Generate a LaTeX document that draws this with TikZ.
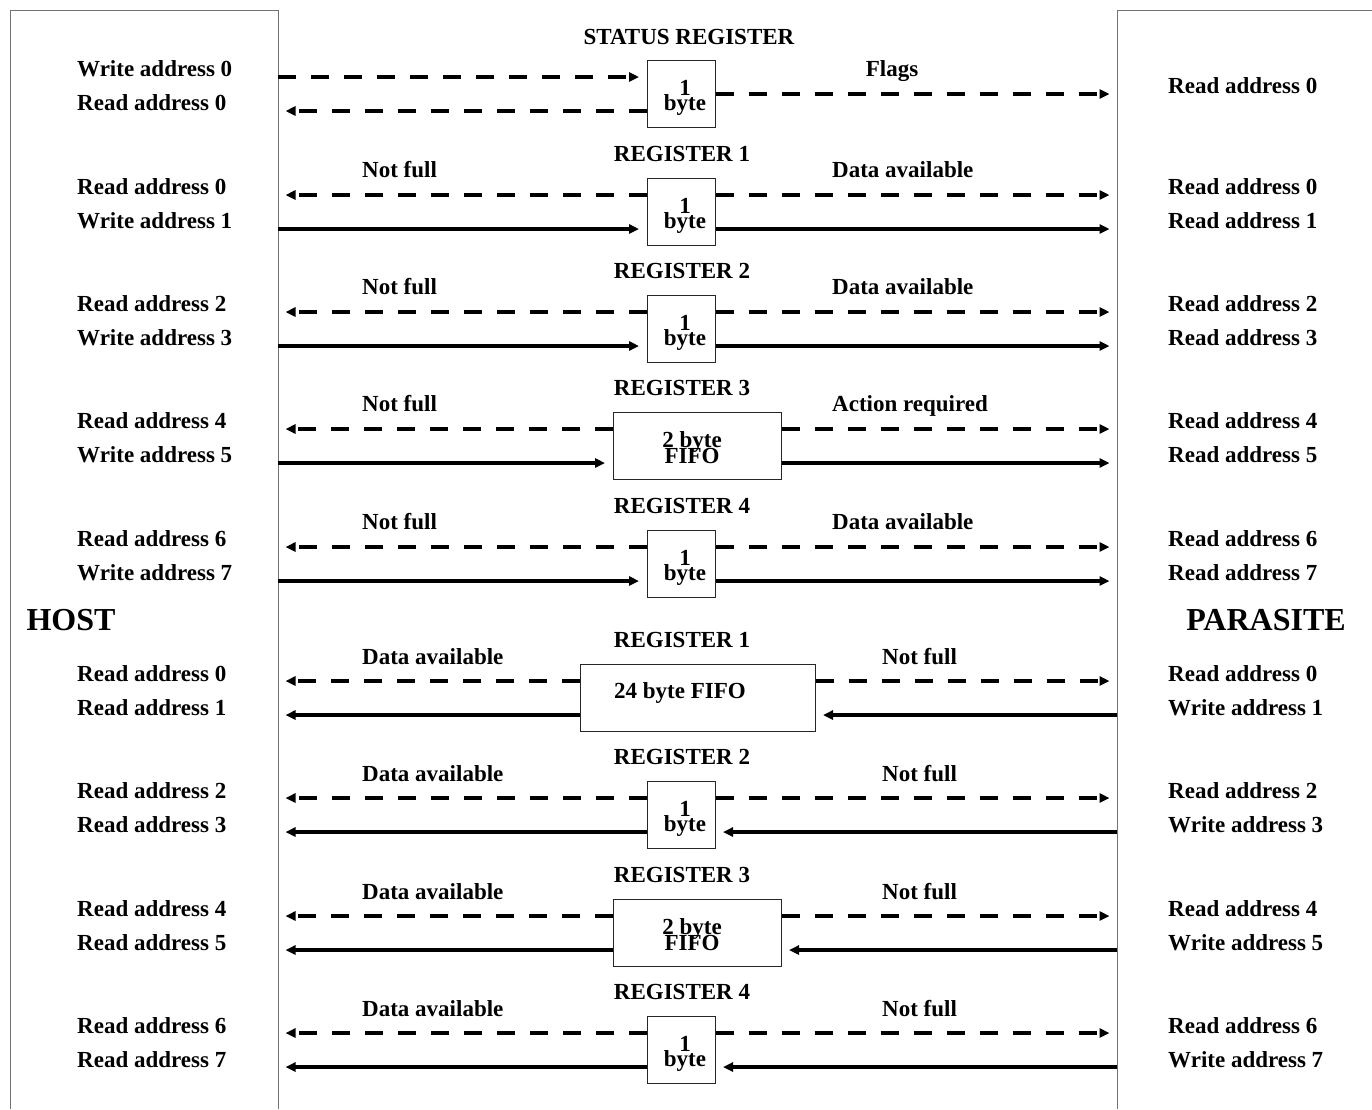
\documentclass[tikz,border=0pt]{standalone}
\usepackage{fontspec}
\setmainfont{Liberation Serif}
\usetikzlibrary{arrows.meta}
\begin{document}
\begin{tikzpicture}[x=1pt,y=-1pt,
  txt/.style={font=\fontsize{23}{23}\selectfont\bfseries, inner sep=0pt, text height=15.5pt, text depth=0pt},
  lbl/.style={txt, anchor=west},
  bigtxt/.style={font=\fontsize{32}{32}\selectfont\bfseries, inner sep=0pt},
  boxtxt/.style={font=\fontsize{23}{23}\selectfont\bfseries, inner sep=0pt, anchor=base},
  reg/.style={draw=black!85, line width=1pt, fill=white, inner sep=0pt, minimum height=67pt},
  panel/.style={draw=black!55, line width=1pt},
  flow/.style={line width=3.5pt, -{Triangle[length=10pt,width=9pt]}, shorten >=7.5pt},
  dsh/.style={flow, dash pattern=on 18pt off 15pt},
]
\useasboundingbox (0,0) rectangle (1372,1109);

% panels
\draw[panel] (10,1109) -- (10,10) -- (278,10) -- (278,1109);
\draw[panel] (1117,1109) -- (1117,10) -- (1372,10);
\node[bigtxt] (host) at (71,620) {HOST};
\node[bigtxt] (parasite) at (1266,620) {PARASITE};

% ---------- status register ----------
\node[reg, minimum width=68pt] (s) at (681,94) {};
\node[boxtxt] (s1) at (685,95) {1};
\node[boxtxt] (s2) at (685,110) {byte};
\node[txt] (stitle) at (689,37) {STATUS REGISTER};
\node[txt] (flags) at (892,69) {Flags};
\node[lbl] (sl1) at (77,69) {Write address 0};
\node[lbl] (sl2) at (77,103) {Read address 0};
\node[lbl] (sr1) at (1168,86) {Read address 0};
\coordinate (sw) at (278,77);
\coordinate (srd) at (278,111);
\coordinate (sp) at (1117,94);
\draw[dsh] (sw) -- (s.west |- sw);
\draw[dsh] (s.west |- srd) -- (srd);
\draw[dsh] (s.east) -- (sp);

% ---------- host -> parasite registers ----------
\node[reg, minimum width=68pt] (u1) at (681,212) {};
\node[reg, minimum width=68pt] (u2) at (681,329) {};
\node[reg, minimum width=168pt] (u3) at (697,446) {};
\node[reg, minimum width=68pt] (u4) at (681,564) {};
\foreach \n/\m in {1/212,2/329,4/564}{
  \node[boxtxt] (ua\n) at (685,\m+1) {1};
  \node[boxtxt] (ub\n) at (685,\m+16) {byte};
}
\node[boxtxt] (ua3) at (692,447) {2 byte};
\node[boxtxt] (ub3) at (692,463) {FIFO};

\foreach \n/\m/\t/\la/\lb/\ra/\rb/\nt in {
  1/212/REGISTER 1/Read address 0/Write address 1/Read address 0/Read address 1/Data available,
  2/329/REGISTER 2/Read address 2/Write address 3/Read address 2/Read address 3/Data available,
  3/446/REGISTER 3/Read address 4/Write address 5/Read address 4/Read address 5/Action required,
  4/564/REGISTER 4/Read address 6/Write address 7/Read address 6/Read address 7/Data available}{
  \node[txt] (ut\n) at (682,\m-58.5) {\t};
  \node[lbl] (un\n) at (362,\m-42) {Not full};
  \node[lbl] (um\n) at (832,\m-42) {\nt};
  \node[lbl] (ul\n) at (77,\m-25) {\la};
  \node[lbl] (uk\n) at (77,\m+9) {\lb};
  \node[lbl] (ur\n) at (1168,\m-25) {\ra};
  \node[lbl] (uq\n) at (1168,\m+9) {\rb};
  \coordinate (uht\n) at (278,\m-17);
  \coordinate (uhb\n) at (278,\m+17);
  \coordinate (upt\n) at (1117,\m-17);
  \coordinate (upb\n) at (1117,\m+17);
  \draw[dsh] (u\n.west |- uht\n) -- (uht\n);
  \draw[flow] (uhb\n) -- (u\n.west |- uhb\n);
  \draw[dsh] (u\n.east |- upt\n) -- (upt\n);
  \draw[flow] (u\n.east |- upb\n) -- (upb\n);
}

% ---------- parasite -> host registers ----------
\node[reg, minimum width=235pt] (v1) at (697.5,698) {};
\node[reg, minimum width=68pt] (v2) at (681,815) {};
\node[reg, minimum width=168pt] (v3) at (697,933) {};
\node[reg, minimum width=68pt] (v4) at (681,1050) {};
\node[txt] (va1) at (680,691) {24 byte FIFO};
\foreach \n/\m in {2/815,4/1050}{
  \node[boxtxt] (va\n) at (685,\m+1) {1};
  \node[boxtxt] (vb\n) at (685,\m+16) {byte};
}
\node[boxtxt] (va3) at (692,934) {2 byte};
\node[boxtxt] (vb3) at (692,950) {FIFO};

\foreach \n/\m/\t/\la/\lb/\ra/\rb in {
  1/698/REGISTER 1/Read address 0/Read address 1/Read address 0/Write address 1,
  2/815/REGISTER 2/Read address 2/Read address 3/Read address 2/Write address 3,
  3/933/REGISTER 3/Read address 4/Read address 5/Read address 4/Write address 5,
  4/1050/REGISTER 4/Read address 6/Read address 7/Read address 6/Write address 7}{
  \node[txt] (vt\n) at (682,\m-58) {\t};
  \node[lbl] (vn\n) at (362,\m-41) {Data available};
  \node[lbl] (vm\n) at (882,\m-41) {Not full};
  \node[lbl] (vl\n) at (77,\m-24) {\la};
  \node[lbl] (vk\n) at (77,\m+10) {\lb};
  \node[lbl] (vr\n) at (1168,\m-24) {\ra};
  \node[lbl] (vq\n) at (1168,\m+10) {\rb};
  \coordinate (vht\n) at (278,\m-17);
  \coordinate (vhb\n) at (278,\m+17);
  \coordinate (vpt\n) at (1117,\m-17);
  \coordinate (vpb\n) at (1117,\m+17);
  \draw[dsh] (v\n.west |- vht\n) -- (vht\n);
  \draw[flow] (v\n.west |- vhb\n) -- (vhb\n);
  \draw[dsh] (v\n.east |- vpt\n) -- (vpt\n);
  \draw[flow] (vpb\n) -- (v\n.east |- vpb\n);
}
\end{tikzpicture}
\end{document}
